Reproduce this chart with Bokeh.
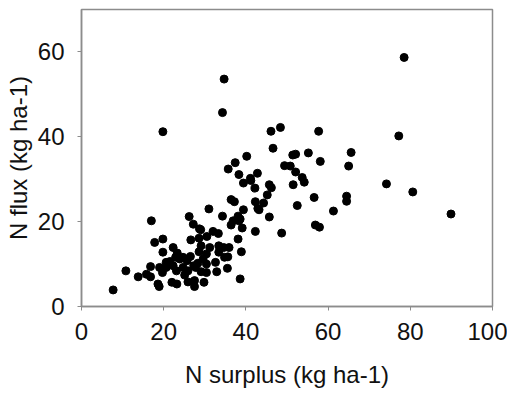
from bokeh.plotting import figure
from bokeh.models import ColumnDataSource, Range1d, FixedTicker
from bokeh.embed import file_html
from bokeh.resources import INLINE

# N surplus (kg ha-1)
n_surplus = [
    78.5, 34.7, 34.3, 19.8, 46.1, 48.4, 57.7, 77.2, 46.6, 40.2,
    37.4, 35.7, 38.3, 42.8, 41.1, 41.2, 39.4, 42.2, 45.7, 46.2,
    45.2, 55.2, 51.4, 52.1, 58.1, 49.4, 50.8, 52.1, 53.7, 54.2,
    51.5, 36.4, 37.2, 42.3, 44.3, 42.9, 43.2, 56.6, 52.5, 39.4,
    38.1, 38.6, 38.3, 45.7, 56.9, 57.9, 39.1, 42.3, 48.7, 38.1,
    38.9, 61.3, 64.5, 64.5, 65.0, 65.6, 74.2, 80.6, 89.9, 38.6,
    34.3, 36.9, 36.4, 31.0, 26.2, 27.2, 28.7, 30.5, 32.0, 33.3,
    26.6, 28.6, 19.8, 17.8, 17.0, 29.1, 33.4, 34.6, 35.9, 35.6,
    32.6, 35.5, 32.9, 30.4, 29.8, 27.5, 27.5, 25.9, 25.1, 22.3,
    19.8, 20.6, 21.5, 16.8, 19.0, 19.7, 20.6, 22.3, 23.1, 22.0,
    23.2, 18.6, 18.9, 10.8, 13.8, 15.8, 16.8, 7.7, 23.3, 24.7,
    26.5, 28.6, 30.4, 31.2, 33.4, 22.9, 23.9, 25.7, 27.3, 28.3,
    29.6, 30.4, 34.8, 27.8, 29.1, 29.0, 24.7, 25.9,
]
# N flux (kg ha-1)
n_flux = [
    58.7, 53.6, 45.7, 41.2, 41.3, 42.2, 41.3, 40.2, 37.3, 35.4,
    33.9, 32.4, 31.1, 31.4, 30.2, 29.7, 29.1, 27.9, 28.7, 28.0,
    26.3, 36.2, 35.7, 35.9, 34.2, 33.2, 33.1, 31.7, 30.4, 29.3,
    28.7, 25.2, 24.7, 24.7, 24.4, 23.1, 22.8, 25.7, 23.8, 22.8,
    21.3, 20.6, 20.2, 21.1, 19.2, 18.7, 18.5, 17.7, 17.3, 15.9,
    12.9, 22.5, 26.0, 24.8, 33.1, 36.3, 28.9, 27.0, 21.8, 6.5,
    21.3, 20.2, 19.2, 23.0, 21.2, 19.4, 18.3, 16.5, 17.7, 17.2,
    15.7, 16.1, 15.9, 15.1, 20.2, 14.3, 14.3, 13.9, 13.9, 11.7,
    10.4, 9.0, 8.2, 8.0, 5.7, 4.7, 6.1, 5.8, 7.4, 13.9,
    12.8, 10.4, 10.6, 9.4, 9.2, 8.0, 9.2, 9.6, 8.4, 5.7,
    5.3, 5.3, 4.7, 8.4, 7.0, 7.6, 7.0, 3.9, 12.6, 11.6,
    11.8, 12.9, 12.4, 13.9, 12.8, 11.6, 11.2, 10.8, 9.6, 10.2,
    11.2, 10.0, 11.6, 9.2, 8.2, 18.1, 9.2, 8.4,
]

x_ticks = [0, 20, 40, 60, 80, 100]
y_ticks = [0, 20, 40, 60]

src = ColumnDataSource(dict(x=n_surplus, y=n_flux))

p = figure(width=507, height=391, output_backend="svg", toolbar_location=None,
           x_range=Range1d(0, 100), y_range=Range1d(0, 70),
           min_border_left=81, min_border_top=9, min_border_right=15,
           min_border_bottom=85)

p.scatter("x", "y", source=src, size=8, fill_color="black", line_color="black")

p.grid.visible = False
p.outline_line_color = "#8c8c8c"
p.outline_line_width = 1.5
p.background_fill_color = "white"
p.border_fill_color = "white"

p.xaxis.ticker = FixedTicker(ticks=x_ticks)
p.yaxis.ticker = FixedTicker(ticks=y_ticks)
p.xaxis.axis_label = "N surplus (kg ha-1)"
p.yaxis.axis_label = "N flux (kg ha-1)"

for ax in (p.xaxis, p.yaxis):
    ax.axis_line_color = "#8c8c8c"
    ax.axis_line_width = 1.5
    ax.major_tick_line_color = "#8c8c8c"
    ax.major_tick_in = 0
    ax.major_tick_out = 4
    ax.minor_tick_line_color = None
    ax.major_label_text_font = "Liberation Sans"
    ax.major_label_text_font_size = "24px"
    ax.major_label_text_color = "#111111"
    ax.axis_label_text_font = "Liberation Sans"
    ax.axis_label_text_font_size = "24px"
    ax.axis_label_text_font_style = "normal"
    ax.axis_label_text_color = "#111111"

p.xaxis.major_label_standoff = 12
p.xaxis.axis_label_standoff = 18
p.yaxis.major_label_standoff = 13
p.yaxis.axis_label_standoff = 3

open("out.html", "w").write(file_html(p, INLINE))
